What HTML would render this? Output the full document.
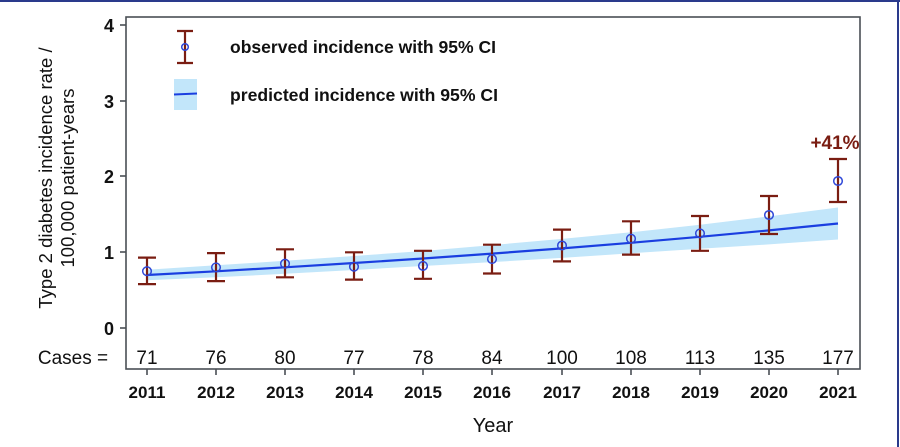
<!DOCTYPE html>
<html><head><meta charset="utf-8"><style>
html,body{margin:0;padding:0;background:#fff}
svg{display:block}
text{font-family:"Liberation Sans",Arial,sans-serif;fill:#111}
</style></head><body>
<svg width="900" height="447" viewBox="0 0 900 447" xmlns="http://www.w3.org/2000/svg">
<rect x="0" y="0" width="900" height="447" fill="#fff"/>
<line x1="0" y1="1" x2="900" y2="1" stroke="#2a3a8c" stroke-width="2"/>
<line x1="898" y1="0" x2="898" y2="447" stroke="#2a3a8c" stroke-width="2"/>
<polygon fill="#c2e6fa" points="147,269.7 216,265.3 285,260.8 354,256 423,251 492,245.1 562,238.9 631,232.3 700,224.8 769,216.4 838,207.5 838,239.5 769,244.4 700,248.8 631,253.3 562,257.9 492,262.1 423,266 354,270 285,273.8 216,277.3 147,280.3"/>
<polyline fill="none" stroke="#1a3ee0" stroke-width="2.2" points="147,275 216,271.3 285,267.3 354,263 423,258.5 492,253.6 562,248.4 631,242.8 700,236.8 769,230.4 838,223.5"/>
<g stroke="#4a4f55" stroke-width="1.6" fill="none">
<rect x="126" y="17" width="734" height="352"/>
<line x1="120" y1="25" x2="126" y2="25"/><line x1="120" y1="101" x2="126" y2="101"/>
<line x1="120" y1="176" x2="126" y2="176"/><line x1="120" y1="252" x2="126" y2="252"/>
<line x1="120" y1="328" x2="126" y2="328"/>
<line x1="147" y1="369" x2="147" y2="375"/><line x1="216" y1="369" x2="216" y2="375"/>
<line x1="285" y1="369" x2="285" y2="375"/><line x1="354" y1="369" x2="354" y2="375"/>
<line x1="423" y1="369" x2="423" y2="375"/><line x1="492" y1="369" x2="492" y2="375"/>
<line x1="562" y1="369" x2="562" y2="375"/><line x1="631" y1="369" x2="631" y2="375"/>
<line x1="700" y1="369" x2="700" y2="375"/><line x1="769" y1="369" x2="769" y2="375"/>
<line x1="838" y1="369" x2="838" y2="375"/>
</g>
<g font-size="18" font-weight="bold" text-anchor="end">
<text x="114" y="32">4</text><text x="114" y="108">3</text><text x="114" y="183">2</text>
<text x="114" y="259">1</text><text x="114" y="335">0</text>
</g>
<g stroke="#7a1d12" stroke-width="2.2" fill="none">
<path d="M147,257.6V284.1M138,257.6h18M138,284.1h18"/>
<path d="M216,253.1V281.1M207,253.1h18M207,281.1h18"/>
<path d="M285,249.3V277.3M276,249.3h18M276,277.3h18"/>
<path d="M354,252.3V279.6M345,252.3h18M345,279.6h18"/>
<path d="M423,250.8V278.8M414,250.8h18M414,278.8h18"/>
<path d="M492,244.7V273.5M483,244.7h18M483,273.5h18"/>
<path d="M562,229.6V261.4M553,229.6h18M553,261.4h18"/>
<path d="M631,221.3V254.6M622,221.3h18M622,254.6h18"/>
<path d="M700,216V250.8M691,216h18M691,250.8h18"/>
<path d="M769,196V234M760,196h18M760,234h18"/>
<path d="M838,159V202M829,159h18M829,202h18"/>
<path d="M185,31V63M177,31h16M177,63h16"/>
</g>
<g stroke="#2f48d8" stroke-width="1.5" fill="none">
<circle cx="147" cy="271.2" r="4.3"/><circle cx="216" cy="267.4" r="4.3"/>
<circle cx="285" cy="263.7" r="4.3"/><circle cx="354" cy="266.7" r="4.3"/>
<circle cx="423" cy="265.9" r="4.3"/><circle cx="492" cy="259.1" r="4.3"/>
<circle cx="562" cy="245.5" r="4.3"/><circle cx="631" cy="238.7" r="4.3"/>
<circle cx="700" cy="233.4" r="4.3"/><circle cx="769" cy="215" r="4.3"/>
<circle cx="838" cy="181" r="4.3"/><circle cx="185" cy="47" r="3.3"/>
</g>
<text x="835" y="149" font-size="19" font-weight="bold" text-anchor="middle" style="fill:#7a1d12">+41%</text>
<rect x="174" y="79" width="23" height="31" fill="#c2e6fa"/>
<line x1="174" y1="94.5" x2="197" y2="93.5" stroke="#1a3ee0" stroke-width="2"/>
<text x="230" y="53" font-size="17.5" font-weight="bold" textLength="266" lengthAdjust="spacingAndGlyphs">observed incidence with 95% CI</text>
<text x="230" y="101" font-size="17.5" font-weight="bold" textLength="268" lengthAdjust="spacingAndGlyphs">predicted incidence with 95% CI</text>
<g font-size="19" text-anchor="middle">
<text x="73" y="364">Cases =</text>
<text x="147" y="364">71</text><text x="216" y="364">76</text><text x="285" y="364">80</text>
<text x="354" y="364">77</text><text x="423" y="364">78</text><text x="492" y="364">84</text>
<text x="562" y="364">100</text><text x="631" y="364">108</text><text x="700" y="364">113</text>
<text x="769" y="364">135</text><text x="838" y="364">177</text>
</g>
<g font-size="17" font-weight="bold" text-anchor="middle">
<text x="147" y="398">2011</text><text x="216" y="398">2012</text><text x="285" y="398">2013</text>
<text x="354" y="398">2014</text><text x="423" y="398">2015</text><text x="492" y="398">2016</text>
<text x="562" y="398">2017</text><text x="631" y="398">2018</text><text x="700" y="398">2019</text>
<text x="769" y="398">2020</text><text x="838" y="398">2021</text>
</g>
<text x="493" y="432" font-size="20" text-anchor="middle">Year</text>
<g font-size="18.5" text-anchor="middle">
<text transform="translate(52,178) rotate(-90)">Type 2 diabetes incidence rate /</text>
<text transform="translate(74,178) rotate(-90)">100,000 patient-years</text>
</g>
</svg>
</body></html>
